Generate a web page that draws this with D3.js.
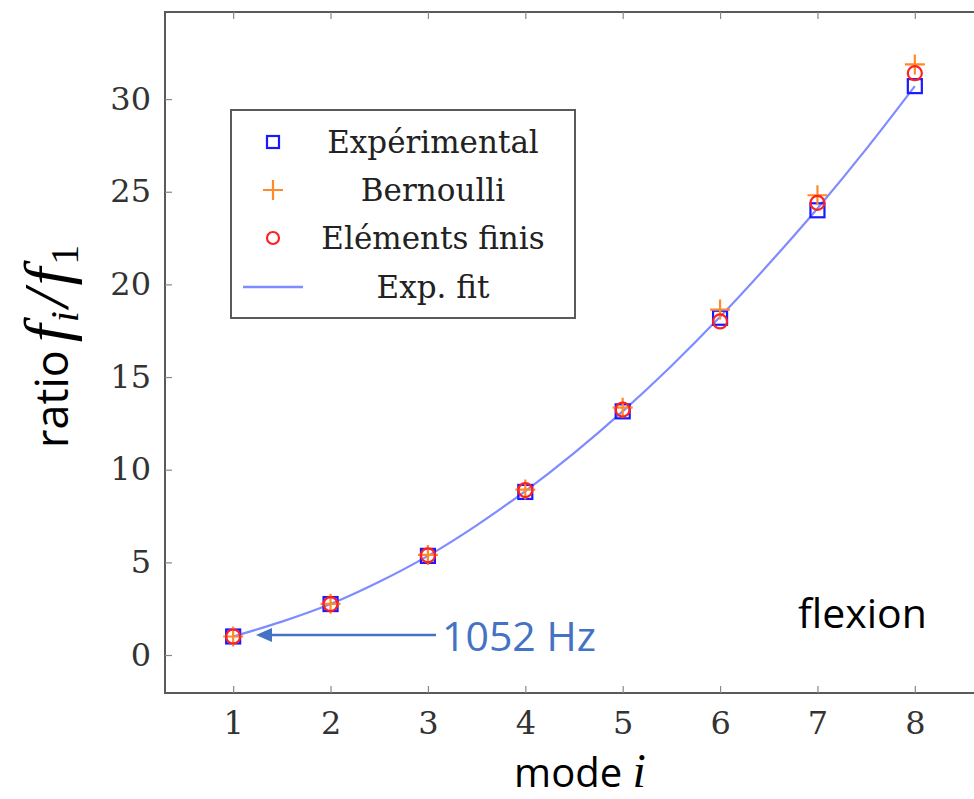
<!DOCTYPE html>
<html><head><meta charset="utf-8">
<script src="https://cdn.jsdelivr.net/npm/d3@7"></script>
<style>html,body{margin:0;padding:0;background:#fff;overflow:hidden}</style>
</head><body>
<svg id="chart" width="974" height="799"></svg>
<script>
const modes = [1,2,3,4,5,6,7,8];
const experimental = [1.0, 2.75, 5.35, 8.8, 13.15, 18.2, 24.0, 30.7];
const bernoulli = [1.0, 2.76, 5.40, 8.93, 13.35, 18.64, 24.81, 31.87];
const elementsFinis = [1.0, 2.75, 5.38, 8.9, 13.25, 18.0, 24.4, 31.4];
const fitX = [1,1.5,2,2.5,3,3.5,4,4.5,5,5.5,6,6.5,7,7.5,8];
const fitY = [1.0,1.8,2.75,3.95,5.35,7.0,8.85,10.9,13.15,15.6,18.25,21.1,24.1,27.3,30.7];
const xTicks = [1,2,3,4,5,6,7,8];
const yTicks = [0,5,10,15,20,25,30];
const legendLabels = ["Expérimental","Bernoulli","Eléments finis","Exp. fit"];

const svg = d3.select("#chart");
const L = 165, R = 983, T = 12, B = 693;
const x = d3.scaleLinear().domain([0.3, 8.7]).range([L, R]);
const y = d3.scaleLinear().domain([-2.05, 34.7]).range([B, T]);
const serif = "'DejaVu Serif', 'Liberation Serif', serif";
const mathSerif = "'Liberation Serif', 'DejaVu Serif', serif";
const sans = "'Open Sans', 'Noto Sans', sans-serif";
const frameCol = "#5a5a5a";

// frame
svg.append("rect").attr("x", L).attr("y", T).attr("width", R - L).attr("height", B - T)
  .attr("fill", "none").attr("stroke", frameCol).attr("stroke-width", 2);

// axes (inside ticks)
const tickLen = 7;
const bottomAxis = svg.append("g").attr("transform", `translate(0,${B})`)
  .call(d3.axisBottom(x).tickValues(xTicks).tickSize(-tickLen).tickPadding(18).tickFormat(d3.format("d")));
const topAxis = svg.append("g").attr("transform", `translate(0,${T})`)
  .call(d3.axisTop(x).tickValues(xTicks).tickSize(-tickLen).tickFormat(""));
const leftAxis = svg.append("g").attr("transform", `translate(${L},0)`)
  .call(d3.axisLeft(y).tickValues(yTicks).tickSize(-tickLen).tickPadding(14).tickFormat(d3.format("d")));
const rightAxis = svg.append("g").attr("transform", `translate(${R},0)`)
  .call(d3.axisRight(y).tickValues(yTicks).tickSize(-tickLen).tickFormat(""));
[bottomAxis, topAxis, leftAxis, rightAxis].forEach(g => {
  g.select(".domain").remove();
  g.selectAll(".tick line").attr("stroke", "#888").attr("stroke-width", 1.2);
  g.selectAll(".tick text").attr("font-family", serif).attr("font-size", 32).attr("fill", "#333");
});

// fit line
const fitData = fitX.map((d, i) => [d, fitY[i]]);
svg.append("path").datum(fitData)
  .attr("d", d3.line().x(d => x(d[0])).y(d => y(d[1])).curve(d3.curveCatmullRom))
  .attr("fill", "none").attr("stroke", "#7f8cff").attr("stroke-width", 2.2);

// markers
const sq = 14;
svg.append("g").selectAll("rect").data(modes).join("rect")
  .attr("x", (d, i) => x(d) - sq / 2).attr("y", (d, i) => y(experimental[i]) - sq / 2)
  .attr("width", sq).attr("height", sq).attr("fill", "none").attr("stroke", "#1a1aff").attr("stroke-width", 2.2);
const pl = 10;
svg.append("g").selectAll("path").data(modes).join("path")
  .attr("d", (d, i) => { const cx = x(d), cy = y(bernoulli[i]); return `M${cx - pl},${cy}H${cx + pl}M${cx},${cy - pl}V${cy + pl}`; })
  .attr("fill", "none").attr("stroke", "#ff8a2a").attr("stroke-width", 2.2);
svg.append("g").selectAll("circle").data(modes).join("circle")
  .attr("cx", d => x(d)).attr("cy", (d, i) => y(elementsFinis[i])).attr("r", 7)
  .attr("fill", "none").attr("stroke", "#ff2020").attr("stroke-width", 2.2);

// legend
const lg = svg.append("g");
lg.append("rect").attr("x", 231).attr("y", 110).attr("width", 344).attr("height", 208)
  .attr("fill", "#fff").attr("stroke", frameCol).attr("stroke-width", 2);
const rowY = [142, 190, 238, 287];
const mx = 273, tx = 433;
lg.append("rect").attr("x", mx - 6).attr("y", rowY[0] - 6).attr("width", 12).attr("height", 12)
  .attr("fill", "none").attr("stroke", "#1a1aff").attr("stroke-width", 2.2);
lg.append("path").attr("d", `M${mx - 10},${rowY[1]}H${mx + 10}M${mx},${rowY[1] - 10}V${rowY[1] + 10}`)
  .attr("stroke", "#ff8a2a").attr("stroke-width", 2.2);
lg.append("circle").attr("cx", mx).attr("cy", rowY[2]).attr("r", 6)
  .attr("fill", "none").attr("stroke", "#ff2020").attr("stroke-width", 2.2);
lg.append("line").attr("x1", 243).attr("x2", 303).attr("y1", rowY[3]).attr("y2", rowY[3])
  .attr("stroke", "#7f8cff").attr("stroke-width", 2.5);
lg.selectAll("text").data(legendLabels).join("text")
  .attr("x", tx).attr("y", (d, i) => rowY[i]).attr("dy", "0.35em")
  .attr("text-anchor", "middle").attr("font-family", serif).attr("font-size", 31).attr("fill", "#222")
  .text(d => d);

// axis labels
const xl = svg.append("text").attr("x", 580).attr("y", 787).attr("text-anchor", "middle")
  .attr("font-family", sans).attr("font-size", 40).attr("fill", "#000");
xl.append("tspan").text("mode ");
xl.append("tspan").attr("font-family", mathSerif).attr("font-style", "italic").attr("font-size", 48).text("i");

const yl = svg.append("text").attr("transform", "translate(68,448) rotate(-90)").attr("text-anchor", "start")
  .attr("font-family", sans).attr("font-size", 45).attr("fill", "#000");
yl.append("tspan").text("ratio");
const ys = yl.append("tspan").attr("font-family", mathSerif).attr("font-style", "italic").attr("font-size", 64).attr("dx", 8);
ys.append("tspan").text("f");
ys.append("tspan").attr("font-size", 40).attr("dy", 10).attr("dx", 2).text("i");
ys.append("tspan").attr("dy", -10).attr("dx", 4).text("/");
ys.append("tspan").attr("dx", 4).text("f");
ys.append("tspan").attr("font-size", 40).attr("font-style", "normal").attr("dy", 10).attr("dx", 3).text("1");

// annotations
svg.append("text").attr("x", 798).attr("y", 628).attr("font-family", sans).attr("font-size", 41)
  .attr("fill", "#000").text("flexion");
svg.append("text").attr("x", 442).attr("y", 651).attr("font-family", sans).attr("font-size", 41)
  .attr("fill", "#4472c4").text("1052 Hz");
const ay = 635;
svg.append("line").attr("x1", 436).attr("x2", 268).attr("y1", ay).attr("y2", ay)
  .attr("stroke", "#4472c4").attr("stroke-width", 2.5);
svg.append("path").attr("d", `M256,${ay}L272,${ay - 7}L272,${ay + 7}Z`).attr("fill", "#4472c4");
</script>
</body></html>
